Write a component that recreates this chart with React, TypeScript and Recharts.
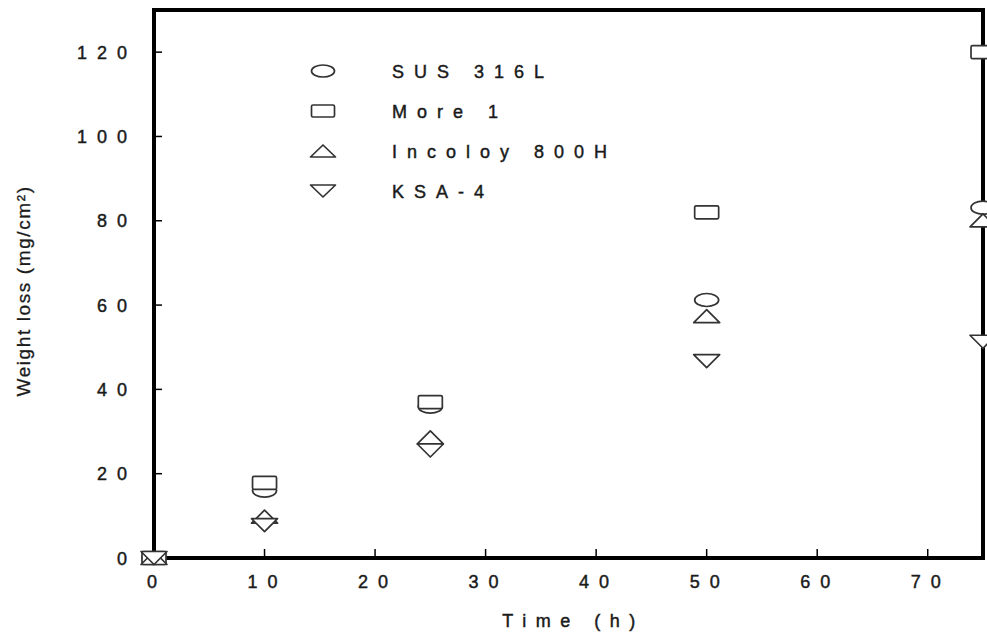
import React from 'react';
import { ScatterChart, Scatter, XAxis, YAxis, ReferenceArea, Label } from 'recharts';

const times = [0, 10, 25, 50, 75];
const sus316L = [0, 16, 35.9, 61.2, 83.1];
const more1 = [0, 17.8, 37, 82, 120];
const incoloy800H = [0, 9.8, 28.6, 57.4, 80.1];
const ksa4 = [0, 7.8, 25.5, 46.7, 51.3];

const xTicks = [0, 10, 20, 30, 40, 50, 60, 70];
const yTicks = [0, 20, 40, 60, 80, 100, 120];

const seriesNames = ['SUS 316L', 'More 1', 'Incoloy 800H', 'KSA-4'];
const seriesKinds = ['ellipse', 'rect', 'up', 'down'];
const seriesValues = [sus316L, more1, incoloy800H, ksa4];

const FONT = '"Liberation Sans", Arial, sans-serif';
const INK = '#1a1a1a';
const TXT = { fontFamily: FONT, fill: INK, stroke: INK, strokeWidth: 0.45 };

const toPoints = (vals: number[]) => times.map((t, i) => ({ t, v: vals[i] }));

function Marker({ kind, cx, cy, w = 24, h = 13 }: { kind: string; cx: number; cy: number; w?: number; h?: number }) {
  const s = { fill: '#fff', stroke: '#333', strokeWidth: 1.7, strokeLinejoin: 'round' as const };
  const hw = w / 2;
  const hh = h / 2;
  if (kind === 'ellipse') return <ellipse cx={cx} cy={cy} rx={hw} ry={hh} {...s} />;
  if (kind === 'rect') return <rect x={cx - hw} y={cy - hh} width={w} height={h} rx={1.5} {...s} />;
  if (kind === 'up')
    return <path d={`M${cx},${cy - hh} L${cx + hw + 1},${cy + hh} L${cx - hw - 1},${cy + hh} Z`} {...s} />;
  return <path d={`M${cx - hw - 1},${cy - hh} L${cx + hw + 1},${cy - hh} L${cx},${cy + hh} Z`} {...s} />;
}

const YTick = (props: any) => {
  const { x, y, payload } = props;
  return (
    <g>
      {payload.value !== 0 && <line x1={x} x2={x + 8} y1={y} y2={y} stroke="#000" strokeWidth={1.5} />}
      <text x={x - 17} y={y} dy={6.5} textAnchor="end" fontSize={18} letterSpacing={10} {...TXT}>
        {payload.value}
      </text>
    </g>
  );
};

const XTick = (props: any) => {
  const { x, y, payload } = props;
  return (
    <g>
      {payload.value !== 0 && <line x1={x} x2={x} y1={y} y2={y - 9} stroke="#000" strokeWidth={1.5} />}
      <text x={x + 3} y={y + 29.5} textAnchor="middle" fontSize={18} letterSpacing={10} {...TXT}>
        {payload.value}
      </text>
    </g>
  );
};

const XLabel = (props: any) => {
  const vb = props.viewBox || { x: 154, y: 558, width: 829, height: 81 };
  const x = vb.x + vb.width / 2 + 5;
  const y = vb.y + 69;
  return (
    <text x={x} y={y} textAnchor="middle" fontSize={18} letterSpacing={9.5} {...TXT}>
      Time (h)
    </text>
  );
};

const YLabel = (props: any) => {
  const vb = props.viewBox || { x: 0, y: 10, width: 154, height: 548 };
  const x = vb.x + 23;
  const y = vb.y + vb.height / 2 + 7;
  return (
    <text
      x={x}
      y={y}
      transform={`rotate(-90, ${x}, ${y})`}
      textAnchor="middle"
      dominantBaseline="central"
      fontSize={19}
      letterSpacing={1.6}
      {...TXT}
      strokeWidth={0.3}
    >
      Weight loss (mg/cm²)
    </text>
  );
};

function LegendBox() {
  return (
    <div style={{ position: 'absolute', left: 300, top: 51, width: 340 }}>
      {seriesNames.map((name, i) => (
        <svg key={name} width={340} height={40} style={{ display: 'block' }}>
          <Marker kind={seriesKinds[i]} cx={23} cy={20} w={23} h={12} />
          <text x={92} y={20} dy={6.5} fontSize={18} letterSpacing={10} {...TXT}>
            {name}
          </text>
        </svg>
      ))}
    </div>
  );
}

export default function App() {
  return (
    <div style={{ position: 'absolute', left: 0, top: 0, width: 987, height: 639, background: '#fff', overflow: 'hidden' }}>
      <ScatterChart width={987} height={639} margin={{ top: 10, right: 4, bottom: 0, left: 0 }}>
        <XAxis
          type="number"
          dataKey="t"
          domain={[0, 75]}
          ticks={xTicks}
          axisLine={false}
          tickLine={false}
          tickSize={0}
          tickMargin={0}
          height={81}
          tick={<XTick />}
          interval={0}
        >
          <Label content={<XLabel />} />
        </XAxis>
        <YAxis
          type="number"
          dataKey="v"
          domain={[0, 130]}
          ticks={yTicks}
          axisLine={false}
          tickLine={false}
          tickSize={0}
          tickMargin={0}
          width={154}
          tick={<YTick />}
          interval={0}
        >
          <Label content={<YLabel />} />
        </YAxis>
        <ReferenceArea
          x1={0}
          x2={75}
          y1={0}
          y2={130}
          fill="none"
          fillOpacity={0}
          stroke="#000"
          strokeWidth={4}
          ifOverflow="visible"
        />
        {seriesNames.map((name, i) => (
          <Scatter
            key={name}
            name={name}
            data={toPoints(seriesValues[i])}
            isAnimationActive={false}
            shape={(p: any) => <Marker kind={seriesKinds[i]} cx={p.cx} cy={p.cy} />}
          />
        ))}
      </ScatterChart>
      <LegendBox />
    </div>
  );
}
